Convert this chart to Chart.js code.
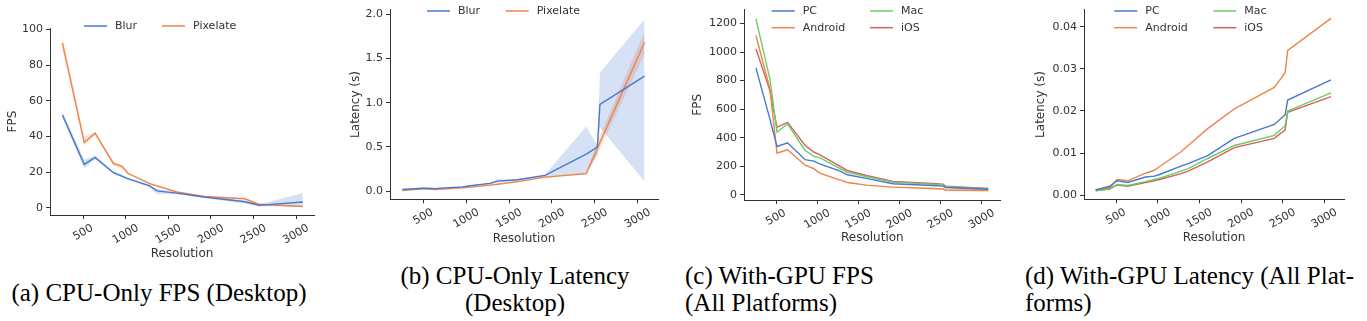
<!DOCTYPE html>
<html>
<head>
<meta charset="utf-8">
<script src="https://cdn.jsdelivr.net/npm/chart.js@4.4.1/dist/chart.umd.min.js"></script>
<style>
  body { margin: 0; background: #fff; width: 1367px; height: 321px; position: relative; overflow: hidden; }
  canvas { position: absolute; top: 0; }
  .cap {
    position: absolute;
    font-family: "Liberation Serif", "Times New Roman", serif;
    font-size: 25px;
    line-height: 27px;
    color: #000;
    white-space: nowrap;
  }
</style>
</head>
<body>
<canvas id="cpuFps" width="340" height="258" style="left:0px"></canvas>
<canvas id="cpuLat" width="340" height="250" style="left:340px"></canvas>
<canvas id="gpuFps" width="340" height="250" style="left:680px"></canvas>
<canvas id="gpuLat" width="347" height="250" style="left:1020px"></canvas>

<div class="cap" style="left:0px;width:318px;text-align:center;top:279px">(a) CPU-Only FPS (Desktop)</div>
<div class="cap" style="left:355px;width:320px;text-align:center;top:262px">(b) CPU-Only Latency<br>(Desktop)</div>
<div class="cap" style="left:685px;top:262px">(c) With-GPU FPS<br>(All Platforms)</div>
<div class="cap" style="left:1025px;top:262px">(d) With-GPU Latency (All Plat-<br>forms)</div>

<script>
// resolutions (x)
const cpuRes = [256, 512, 640, 854, 960, 1024, 1280, 1366, 1600, 1920, 2400, 2530, 2560, 3080];
const gpuRes = [256, 426, 512, 640, 854, 960, 1024, 1280, 1366, 1600, 1920, 2400, 2530, 2560, 3080];

// (a) CPU-only FPS
const blurFps   = [52.0, 24.3, 28.2, 19.6, 17.6, 16.3, 12.2, 9.4, 8.2, 6.0, 3.3, 1.8, 1.3, 3.2];
const blurFpsLo = [50.5, 22.0, 27.0, 19.0, 17.0, 15.8, 11.5, 7.5, 7.5, 5.5, 2.2, 1.2, 0.8, 0.4];
const blurFpsHi = [54.0, 27.0, 29.2, 20.5, 18.3, 16.8, 12.8, 10.5, 8.8, 6.5, 4.2, 2.4, 1.8, 8.2];
const pixFps    = [92.3, 36.6, 41.8, 24.8, 23.0, 19.3, 13.5, 12.2, 8.8, 6.3, 5.0, 2.5, 1.9, 0.7];
const pixFpsLo  = [89.0, 35.0, 40.5, 23.5, 22.0, 18.7, 13.0, 11.7, 8.4, 6.0, 4.6, 2.1, 1.6, 0.4];
const pixFpsHi  = [96.0, 40.0, 42.5, 26.0, 24.0, 20.0, 14.0, 12.7, 9.2, 6.7, 5.4, 3.0, 2.2, 1.0];

// (b) CPU-only latency
const blurLat   = [0.02, 0.035, 0.03, 0.045, 0.05, 0.06, 0.09, 0.115, 0.13, 0.18, 0.42, 0.50, 0.98, 1.30];
const blurLatLo = [0.01, 0.025, 0.025, 0.04, 0.045, 0.055, 0.08, 0.10, 0.12, 0.17, 0.20, 0.42, 0.72, 0.11];
const blurLatHi = [0.03, 0.05, 0.04, 0.05, 0.055, 0.065, 0.10, 0.14, 0.14, 0.19, 0.73, 0.52, 1.34, 1.94];
const pixLat    = [0.01, 0.03, 0.02, 0.035, 0.04, 0.045, 0.07, 0.08, 0.11, 0.16, 0.20, 0.48, 0.55, 1.68];
const pixLatLo  = [0.005, 0.025, 0.015, 0.03, 0.035, 0.04, 0.065, 0.075, 0.10, 0.15, 0.19, 0.40, 0.48, 1.55];
const pixLatHi  = [0.015, 0.035, 0.025, 0.04, 0.045, 0.05, 0.075, 0.085, 0.12, 0.17, 0.21, 0.56, 0.63, 1.80];

// (c) with-GPU FPS
const pcFps        = [889, 530, 338, 364, 246, 236, 218, 165, 140, 115, 77, 65, 60, 51, 38];
const androidFps   = [1117, 740, 292, 315, 207, 183, 153, 102, 86, 67, 53, 44, 40, 33, 30];
const androidFpsLo = [1100, 725, 285, 308, 202, 178, 149, 99, 83, 64, 50, 38, 33, 24, 20];
const androidFpsHi = [1135, 755, 299, 322, 212, 188, 157, 105, 89, 70, 56, 50, 46, 40, 50];
const macFps       = [1233, 810, 438, 496, 310, 269, 262, 183, 157, 128, 88, 74, 67, 56, 40];
const iosFps       = [1024, 730, 473, 507, 345, 299, 283, 199, 170, 135, 93, 79, 74, 60, 44];

// (d) with-GPU latency
const pcLat      = [0.0012, 0.0021, 0.0034, 0.0030, 0.0043, 0.0045, 0.0049, 0.0069, 0.0075, 0.0094, 0.0135, 0.0168, 0.0191, 0.0226, 0.0274];
const androidLat = [0.0013, 0.0018, 0.0037, 0.0034, 0.0052, 0.0059, 0.0068, 0.0103, 0.0118, 0.0158, 0.0205, 0.0256, 0.0291, 0.0344, 0.0420];
const macLat     = [0.0010, 0.0014, 0.0025, 0.0023, 0.0032, 0.0037, 0.0040, 0.0057, 0.0063, 0.0087, 0.0118, 0.0142, 0.0165, 0.0200, 0.0243];
const iosLat     = [0.0011, 0.0016, 0.0024, 0.0021, 0.0030, 0.0034, 0.0037, 0.0051, 0.0057, 0.0079, 0.0113, 0.0135, 0.0155, 0.0197, 0.0234];

// ticks
const resTicks = [500, 1000, 1500, 2000, 2500, 3000];
const cpuFpsTicks = [0, 20, 40, 60, 80, 100];
const cpuLatTicks = [0, 0.5, 1.0, 1.5, 2.0];
const gpuFpsTicks = [0, 200, 400, 600, 800, 1000, 1200];
const gpuLatTicks = [0, 0.01, 0.02, 0.03, 0.04];

const FONT = "DejaVu Sans";
const INK = "#333";
const BLUE = "#4878d0", ORANGE = "#ee854a", GREEN = "#6acc64", RED = "#d65f5f";

Chart.defaults.font.family = FONT;
Chart.defaults.color = INK;

function pts(xs, ys) {
  return xs.map((x, i) => ({ x: x, y: ys[i] }));
}

function line(label, xs, ys, color) {
  return { label, data: pts(xs, ys), borderColor: color, borderWidth: 1.4, pointRadius: 0, fill: false, order: 1 };
}

// upper edge then lower edge filled back to it
function band(xs, lo, hi, color) {
  return [
    { data: pts(xs, hi), borderColor: "rgba(0,0,0,0)", borderWidth: 0, pointRadius: 0, fill: false, order: 2 },
    { data: pts(xs, lo), borderColor: "rgba(0,0,0,0)", borderWidth: 0, pointRadius: 0, fill: "-1", backgroundColor: color, order: 2 },
  ];
}

// rotated x tick labels + frameless legend
const decor = {
  id: "decor",
  afterDraw(chart, args, opts) {
    const ctx = chart.ctx;
    const xs = chart.scales.x;
    ctx.save();
    ctx.fillStyle = INK;
    ctx.font = "11px '" + FONT + "'";
    ctx.textAlign = "center";
    ctx.textBaseline = "middle";
    resTicks.forEach((v) => {
      const t = String(v);
      const w = ctx.measureText(t).width;
      const px = xs.getPixelForValue(v);
      const cy = xs.top + 7.5 + (w * 0.5 + 11 * 0.866) / 2;
      ctx.save();
      ctx.translate(px, cy);
      ctx.rotate(-Math.PI / 6);
      ctx.fillText(t, 0, 0);
      ctx.restore();
    });

    const named = chart.data.datasets.filter((d) => d.label);
    ctx.textAlign = "left";
    named.forEach((d, i) => {
      const p = opts.pos[i];
      ctx.strokeStyle = d.borderColor;
      ctx.lineWidth = 1.5;
      ctx.beginPath();
      ctx.moveTo(p[0], p[1]);
      ctx.lineTo(p[0] + 23, p[1]);
      ctx.stroke();
      ctx.fillText(d.label, p[0] + 31, p[1] + 0.5);
    });
    ctx.restore();
  },
};

function makeChart(id, p) {
  new Chart(document.getElementById(id), {
    type: "line",
    data: { datasets: p.datasets },
    plugins: [decor],
    options: {
      responsive: false,
      animation: false,
      devicePixelRatio: 1,
      layout: { padding: { left: 0, top: p.top, right: p.right, bottom: 0 } },
      plugins: {
        legend: { display: false },
        tooltip: { enabled: false },
        decor: { pos: p.legend },
      },
      scales: {
        x: {
          type: "linear",
          min: p.xMin,
          max: p.xMax,
          afterBuildTicks: (s) => { s.ticks = resTicks.map((v) => ({ value: v })); },
          afterFit: (s) => { s.height = p.xH; },
          grid: { drawOnChartArea: false, drawTicks: true, tickLength: 4, color: INK, lineWidth: 1 },
          border: { display: true, color: INK, width: 1 },
          ticks: { display: false },
          title: { display: true, text: "Resolution", color: INK, font: { size: 12 }, padding: { top: 0, bottom: p.xPad } },
        },
        y: {
          type: "linear",
          min: p.yMin,
          max: p.yMax,
          afterBuildTicks: (s) => { s.ticks = p.yTicks.map((v) => ({ value: v })); },
          afterFit: (s) => { s.width = p.yW; },
          grid: { drawOnChartArea: false, drawTicks: true, tickLength: 4, color: INK, lineWidth: 1 },
          border: { display: true, color: INK, width: 1 },
          ticks: { color: INK, font: { size: 11 }, padding: 3, callback: (v) => v.toFixed(p.digits) },
          title: { display: true, text: p.yTitle, color: INK, font: { size: 12 }, padding: { top: p.yPad, bottom: 0 } },
        },
      },
    },
  });
}

makeChart("cpuFps", {
  datasets: [
    ...band(cpuRes, blurFpsLo, blurFpsHi, "rgba(72,120,208,0.22)"),
    ...band(cpuRes, pixFpsLo, pixFpsHi, "rgba(238,133,74,0.22)"),
    line("Blur", cpuRes, blurFps, BLUE),
    line("Pixelate", cpuRes, pixFps, ORANGE),
  ],
  xMin: 110, xMax: 3211, yMin: -4.1, yMax: 100.8, yTicks: cpuFpsTicks, digits: 0,
  top: 28, right: 26, yW: 50, xH: 43, xPad: -3.5, yPad: 5.5, yTitle: "FPS",
  legend: [[84, 26], [162, 26]],
});

makeChart("cpuLat", {
  datasets: [
    ...band(cpuRes, blurLatLo, blurLatHi, "rgba(72,120,208,0.22)"),
    ...band(cpuRes, pixLatLo, pixLatHi, "rgba(238,133,74,0.25)"),
    line("Blur", cpuRes, blurLat, BLUE),
    line("Pixelate", cpuRes, pixLat, ORANGE),
  ],
  xMin: 112, xMax: 3237, yMin: -0.09, yMax: 2.05, yTicks: cpuLatTicks, digits: 1,
  top: 9, right: 22, yW: 50, xH: 50.7, xPad: 3.8, yPad: 8.8, yTitle: "Latency (s)",
  legend: [[87, 11], [165.7, 11]],
});

makeChart("gpuFps", {
  datasets: [
    ...band(gpuRes, androidFpsLo, androidFpsHi, "rgba(238,133,74,0.25)"),
    line("PC", gpuRes, pcFps, BLUE),
    line("Android", gpuRes, androidFps, ORANGE),
    line("Mac", gpuRes, macFps, GREEN),
    line("iOS", gpuRes, iosFps, RED),
  ],
  xMin: 111, xMax: 3231, yMin: -37, yMax: 1298, yTicks: gpuFpsTicks, digits: 0,
  top: 8, right: 19.3, yW: 64, xH: 50, xPad: 4.8, yPad: 10.8, yTitle: "FPS",
  legend: [[91.7, 11], [91.7, 27.7], [190, 11], [190, 27.7]],
});

makeChart("gpuLat", {
  datasets: [
    line("PC", gpuRes, pcLat, BLUE),
    line("Android", gpuRes, androidLat, ORANGE),
    line("Mac", gpuRes, macLat, GREEN),
    line("iOS", gpuRes, iosLat, RED),
  ],
  xMin: 116, xMax: 3236, yMin: -0.001, yMax: 0.0441, yTicks: gpuLatTicks, digits: 2,
  top: 8.3, right: 23, yW: 64, xH: 50.7, xPad: 4.8, yPad: 13.8, yTitle: "Latency (s)",
  legend: [[94.3, 11], [94.3, 27.7], [193.3, 11], [193.3, 27.7]],
});
</script>
</body>
</html>
